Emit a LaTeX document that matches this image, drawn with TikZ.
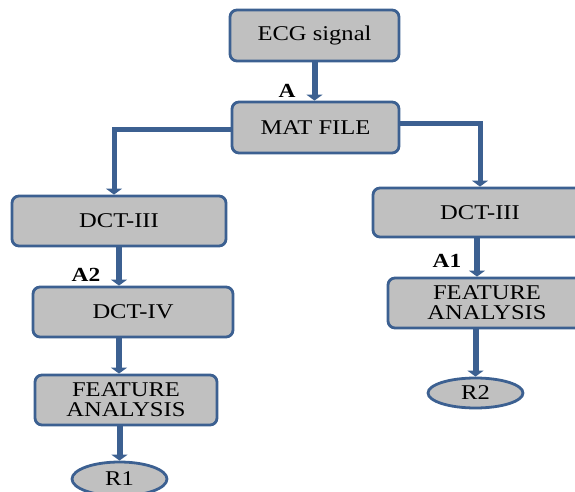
\documentclass[tikz,border=0pt]{standalone}
\usepackage{fontspec}
\setmainfont{Liberation Serif}
\usetikzlibrary{arrows.meta,shapes.geometric}
\definecolor{boxblue}{RGB}{60,96,145}
\definecolor{boxgray}{RGB}{192,192,192}
\newcommand{\wide}[1]{\scalebox{1.17}[1]{#1}}
\begin{document}
\begin{tikzpicture}[x=1pt,y=-1pt,
    box/.style={draw=boxblue,fill=boxgray,line width=2.8pt,rounded corners=7pt,
        font=\fontsize{21}{20}\selectfont,align=center},
    oval/.style={ellipse,draw=boxblue,fill=boxgray,line width=2.8pt,inner sep=0pt,
        font=\fontsize{21}{20}\selectfont},
    arr/.style={draw=boxblue,line width=6pt,-{Triangle[width=16pt,length=6pt]}},
    lbl/.style={font=\fontsize{20}{20}\selectfont\bfseries}]
    \useasboundingbox (0,0) rectangle (575,492);
    % Hộp
    \node[box,minimum width=169pt,minimum height=51pt] (ecg) at (314.5,35.5) {\wide{ECG signal}};
    \node[box,minimum width=167pt,minimum height=51pt] (mat) at (315.5,127.5) {\wide{MAT FILE}};
    \node[box,minimum width=214pt,minimum height=50pt] (dctl) at (119,221) {\wide{DCT-III}};
    \node[box,minimum width=200pt,minimum height=50pt] (dctiv) at (133,312) {\wide{DCT-IV}};
    \node[box,minimum width=182pt,minimum height=50pt] (featl) at (126,400) {\wide{FEATURE}\\\wide{ANALYSIS}};
    \node[oval,minimum width=95pt,minimum height=34pt] (rone) at (119.5,479) {\wide{R1}};
    \node[box,minimum width=214pt,minimum height=49pt] (dctr) at (480,212.5) {\wide{DCT-III}};
    \node[box,minimum width=198pt,minimum height=50pt] (featr) at (487,303) {\wide{FEATURE}\\\wide{ANALYSIS}};
    \node[oval,minimum width=95pt,minimum height=30pt] (rtwo) at (475.5,393) {\wide{R2}};
    % Nhãn
    \node[lbl] (la) at (287,91) {\wide{A}};
    \node[lbl] (laii) at (86,275) {\wide{A2}};
    \node[lbl] (lai) at (447,261) {\wide{A1}};
    % Mũi tên
    \draw[arr] (ecg.south) -- (ecg.south |- mat.north);
    \draw[arr,line width=5pt] ([yshift=-2pt]mat.west) -| ([xshift=-5pt]dctl.north);
    \draw[arr,line width=5pt] ([yshift=4pt]mat.east) -| (dctr.north);
    \draw[arr] (dctl.south) -- (dctl.south |- dctiv.north);
    \draw[arr] (dctl.south |- dctiv.south) -- (dctl.south |- featl.north);
    \draw[arr] (rone.north |- featl.south) -- (rone.north);
    \draw[arr] ([xshift=-3pt]dctr.south) -- ([xshift=-3pt]dctr.south |- featr.north);
    \draw[arr] (rtwo.north |- featr.south) -- (rtwo.north);
\end{tikzpicture}
\end{document}
